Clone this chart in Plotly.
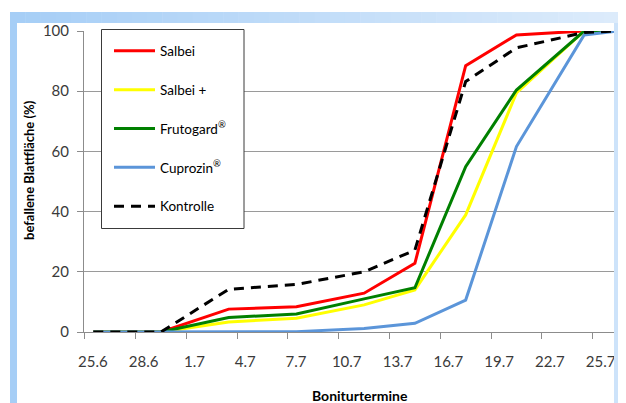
import plotly.graph_objects as go
from datetime import datetime, timedelta

# ---------------- data ----------------
dates = ["25.6", "29.6", "3.7", "7.7", "11.7", "14.7", "17.7", "20.7", "24.7", "26.7"]
salbei = [0, 0, 7.6, 8.4, 12.9, 22.8, 88.5, 98.7, 100, 100]
salbei_plus = [0, 0, 3.3, 4.6, 9.0, 14.0, 38.9, 79.4, 100, 100]
frutogard = [0, 0, 4.8, 6.0, 11.0, 14.7, 54.9, 80.4, 100, 100]
cuprozin = [0, 0, 0, 0.1, 1.2, 2.9, 10.6, 61.6, 98.7, 100]
kontrolle = [0, 0, 14.2, 15.8, 20.0, 27.2, 83.2, 94.4, 99.5, 100]
tick_labels = ["25.6", "28.6", "1.7", "4.7", "7.7", "10.7", "13.7", "16.7", "19.7", "22.7", "25.7"]
series_names = ["Salbei", "Salbei +", "Frutogard<sup>®</sup>", "Cuprozin<sup>®</sup>", "Kontrolle"]
YEAR = 2013


def to_date(s):
    d, m = s.split(".")
    return datetime(YEAR, int(m), int(d))


x = [to_date(s) for s in dates]

# page is shown with an 8px body margin -> figure pixel = page pixel - 8
OFF = 8
W, H = 618, 395
L, R, T, B = 76, 8, 23, 71
PW, PH = W - L - R, H - T - B


def px(X):  # page x -> paper x
    return (X - OFF - L) / PW


def py(Y):  # page y -> paper y
    return (H - B - (Y - OFF)) / PH


FONT = "Lato, 'Liberation Sans', Arial, sans-serif"

fig = go.Figure()
styles = [
    dict(color="#ff0000", width=3),
    dict(color="#ffff00", width=3),
    dict(color="#008000", width=3),
    dict(color="#5b95d9", width=3),
    dict(color="#000000", width=3, dash="10px,7px"),
]
for i, (name, vals, st) in enumerate(zip(series_names, [salbei, salbei_plus, frutogard, cuprozin, kontrolle], styles)):
    fig.add_trace(go.Scatter(x=x, y=vals, mode="lines", name=name, line=st,
                             legendgroup=f"g{i}"))

# x axis: ticks half a day before each label date, labels shifted right by half a day
tickvals = [to_date(s) - timedelta(hours=12) for s in tick_labels]
x0 = to_date(dates[0]) - timedelta(hours=13, minutes=12)
x1 = to_date(dates[0]) + timedelta(days=31)

fig.update_xaxes(
    type="date", range=[x0, x1], tickvals=tickvals, ticktext=tick_labels,
    ticklabelshift=8, showgrid=False, showline=True, linecolor="#8c8c8c", linewidth=1,
    ticks="outside", ticklen=6, tickcolor="#8c8c8c", zeroline=False, automargin=False,
    tickfont=dict(family=FONT, size=15, color="#3a3a3a"), ticklabelstandoff=10,
)
fig.update_yaxes(
    range=[0, 100], dtick=20, showgrid=True, gridcolor="#9a9a9a", gridwidth=1,
    showline=True, linecolor="#8c8c8c", ticks="outside", ticklen=6, tickcolor="#8c8c8c",
    zeroline=False, automargin=False, ticklabelstandoff=5,
    tickfont=dict(family=FONT, size=15, color="#3a3a3a"),
)

annotations = [
    dict(text="befallene Blattfläche (%)", xref="paper", yref="paper", x=px(29), y=py(170),
         xanchor="center", yanchor="middle", textangle=-90, showarrow=False,
         font=dict(family=FONT, size=13, color="#000000", weight="bold")),
    dict(text="Boniturtermine", xref="paper", yref="paper", x=px(360), y=py(395),
         xanchor="center", yanchor="middle", showarrow=False,
         font=dict(family=FONT, size=14, color="#000000", weight="bold")),
]

shapes = []
# top gradient bar
n = 40
c0, c1 = (166, 206, 246), (220, 235, 251)
for k in range(n):
    t = k / (n - 1)
    col = "rgb(%d,%d,%d)" % tuple(round(a + (b - a) * t) for a, b in zip(c0, c1))
    xa = 10 + (619 - 10) * k / n
    xb = 10 + (619 - 10) * (k + 1) / n + 0.5
    shapes.append(dict(type="rect", xref="paper", yref="paper", x0=px(xa), x1=px(xb), y0=py(23), y1=py(12),
                       fillcolor=col, line=dict(width=0), layer="above"))
# left bar
shapes.append(dict(type="rect", xref="paper", yref="paper", x0=px(10), x1=px(17), y0=py(404), y1=py(12),
                   fillcolor="rgb(166,206,246)", line=dict(width=0), layer="above"))
# right bar
shapes.append(dict(type="rect", xref="paper", yref="paper", x0=px(614), x1=px(619), y0=py(404), y1=py(23),
                   fillcolor="rgb(205,227,250)", line=dict(width=0), layer="above"))
# legend box
shapes.append(dict(type="rect", xref="paper", yref="paper", x0=px(101.5), x1=px(244), y0=py(228.5), y1=py(29.5),
                   fillcolor="rgba(255,255,255,1)", line=dict(width=1, color="#3a3a3a"), layer="above"))

fig.update_layout(
    width=W, height=H, margin=dict(l=L, r=R, t=T, b=B, autoexpand=False),
    paper_bgcolor="white", plot_bgcolor="white",
    shapes=shapes, annotations=annotations,
    showlegend=True,
    legend=dict(x=px(109), y=py(35.5), xanchor="left", yanchor="top", bgcolor="rgba(0,0,0,0)",
                borderwidth=0, font=dict(family=FONT, size=13.5, color="#000000"),
                tracegroupgap=18.3, itemwidth=41),
    font=dict(family=FONT),
)

fig.write_html("out.html")
